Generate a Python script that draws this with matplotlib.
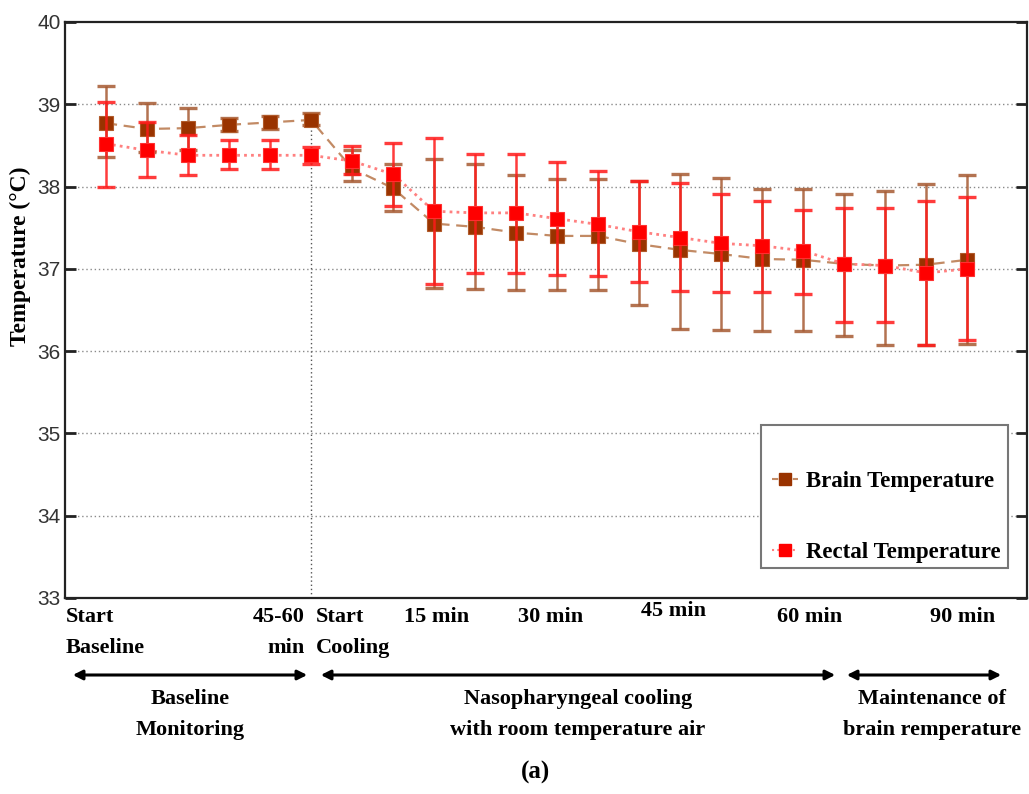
import matplotlib
matplotlib.use("Agg")
import matplotlib.pyplot as plt
from matplotlib.patches import Rectangle, FancyArrowPatch
from matplotlib.lines import Line2D
import numpy as np

# Measurement points: 6 baseline readings followed by 16 cooling readings
n_points = 22
x = np.arange(1, n_points + 1)

brain_mean = [38.77, 38.70, 38.71, 38.75, 38.78, 38.81,
              38.22, 37.98, 37.55, 37.51, 37.44, 37.40, 37.40, 37.30,
              37.23, 37.18, 37.12, 37.11, 37.06, 37.04, 37.05, 37.11]
brain_upper = [39.22, 39.01, 38.95, 38.83, 38.86, 38.89,
               38.45, 38.28, 38.33, 38.27, 38.14, 38.09, 38.09, 38.07,
               38.15, 38.10, 37.97, 37.97, 37.91, 37.95, 38.03, 38.14]
brain_lower = [38.36, 38.42, 38.45, 38.68, 38.70, 38.75,
               38.07, 37.70, 36.77, 36.76, 36.74, 36.74, 36.74, 36.56,
               36.27, 36.26, 36.25, 36.25, 36.18, 36.08, 36.08, 36.09]

rectal_mean = [38.52, 38.44, 38.38, 38.38, 38.38, 38.38,
               38.31, 38.15, 37.70, 37.68, 37.68, 37.61, 37.54, 37.45,
               37.38, 37.31, 37.28, 37.22, 37.06, 37.04, 36.95, 37.00]
rectal_upper = [39.03, 38.78, 38.63, 38.56, 38.56, 38.48,
                38.49, 38.53, 38.59, 38.40, 38.40, 38.30, 38.19, 38.07,
                38.04, 37.91, 37.83, 37.72, 37.74, 37.74, 37.82, 37.87]
rectal_lower = [37.99, 38.12, 38.14, 38.21, 38.21, 38.28,
                38.15, 37.76, 36.81, 36.95, 36.95, 36.93, 36.91, 36.84,
                36.73, 36.72, 36.72, 36.70, 36.35, 36.35, 36.08, 36.14]

tick_labels = ["Start\nBaseline", "45-60\nmin", "Start\nCooling", "15 min",
               "30 min", "45 min", "60 min", "90 min"]
tick_label_x = [0.02, 5.85, 6.12, 9.05, 11.85, 14.85, 18.15, 21.9]

phase_labels = ["Baseline\nMonitoring",
                "Nasopharyngeal cooling\nwith room temperature air",
                "Maintenance of\nbrain remperature"]

brain_err = [np.array(brain_mean) - np.array(brain_lower),
             np.array(brain_upper) - np.array(brain_mean)]
rectal_err = [np.array(rectal_mean) - np.array(rectal_lower),
              np.array(rectal_upper) - np.array(rectal_mean)]

serif = "Liberation Serif"
fig = plt.figure(figsize=(10.29, 7.94), dpi=100)
ax = fig.add_axes([0.0632, 0.2469, 0.9348, 0.7254])

ax.set_xlim(0, 23.46)
ax.set_ylim(33, 40)

# horizontal dotted grid
for yv in range(34, 40):
    ax.axhline(yv, color="#8a8a8a", lw=1.0, ls=(0, (1, 2)), zorder=0)

# end of baseline marker
ax.plot([6, 6], [33, brain_mean[5]], color="#555555", lw=1.0,
        ls=(0, (1, 2)), zorder=0.5)

# connecting lines
ax.plot(x, brain_mean, color="#c28a64", lw=1.6, ls=(0, (5, 3)), zorder=2)
ax.plot(x, rectal_mean, color="#ff8080", lw=2.0, ls=(0, (1, 1.5)), zorder=2)

ax.errorbar(x, brain_mean, yerr=brain_err, fmt="none", ecolor="#a65a32",
            elinewidth=1.8, capsize=6.5, capthick=2.4, alpha=0.85, zorder=3)
ax.plot(x, brain_mean, ls="none", marker="s", ms=10, color="#993300",
        mec="#b05a2a", mew=0.8, zorder=4)

ax.errorbar(x, rectal_mean, yerr=rectal_err, fmt="none", ecolor="#ff1a1a",
            elinewidth=1.8, capsize=6.5, capthick=2.4, alpha=0.85, zorder=5)
ax.plot(x, rectal_mean, ls="none", marker="s", ms=10, color="#ff0000",
        mec="#ff3030", mew=0.8, zorder=6)

# axes styling
ax.set_xticks([])
ax.set_yticks(range(33, 41))
ax.tick_params(axis="y", which="both", direction="in", length=8, width=2,
               right=True, labelsize=15, colors="#222222", pad=3)
for lbl in ax.get_yticklabels():
    lbl.set_fontfamily("Liberation Sans")
    lbl.set_color("#333333")
for side in ["left", "right", "top", "bottom"]:
    ax.spines[side].set_linewidth(1.6)
    ax.spines[side].set_color("#222222")

ax.set_ylabel("Temperature (\u00b0C)", fontsize=17, fontweight="bold",
              family=serif, labelpad=4)
ax.yaxis.set_label_coords(-0.035, 0.594)

# category labels beneath the axis
for lx, txt in zip(tick_label_x, tick_labels):
    if txt.startswith("45-60"):
        ha = "right"
    elif txt.startswith("Start"):
        ha = "left"
    else:
        ha = "center"
    dy = -0.006 if txt == "45 min" else -0.015
    ax.text(lx, dy, txt, transform=ax.get_xaxis_transform(), ha=ha, va="top",
            multialignment=ha if ha != "center" else "center",
            fontsize=16, fontweight="bold", family=serif, linespacing=1.75)

# phase arrows
arrow_y = 1 - 675 / 794
arrow_spans = [(70, 310), (318, 838), (844, 1004)]
label_shift = [0, 0, 8]
for (x0, x1), lab, sh in zip(arrow_spans, phase_labels, label_shift):
    fig.add_artist(FancyArrowPatch(
        (x0 / 1029, arrow_y), (x1 / 1029, arrow_y),
        transform=fig.transFigure, arrowstyle="<|-|>", mutation_scale=14,
        lw=2.2, color="black"))
    fig.text(((x0 + x1) / 2 + sh) / 1029, 1 - 689 / 794, lab, ha="center",
             va="top", fontsize=16, fontweight="bold", family=serif,
             linespacing=1.75)

fig.text(536 / 1029, 1 - 772 / 794, "(a)", ha="center", va="center",
         fontsize=18, fontweight="bold", family=serif)

# legend with its own frame
frame = Rectangle((761 / 1029, 1 - 568 / 794), (1008 - 761) / 1029,
                  (568 - 425) / 794, transform=fig.transFigure,
                  facecolor="white", edgecolor="#777777", lw=1.5, zorder=7)
fig.add_artist(frame)
h1 = Line2D([], [], color="#c28a64", ls=(0, (3, 2)), lw=1.5, marker="s",
            ms=9, mfc="#993300", mec="#993300")
h2 = Line2D([], [], color="#ff8080", ls=(0, (1, 1.5)), lw=1.5, marker="s",
            ms=9, mfc="#ff0000", mec="#ff0000")
leg = fig.legend([h1, h2], ["Brain Temperature", "Rectal Temperature"],
                 loc="center left",
                 bbox_to_anchor=(761 / 1029, 1 - 517 / 794),
                 frameon=False, handlelength=1.1, handletextpad=0.35,
                 labelspacing=2.15, borderpad=0,
                 prop={"family": serif, "weight": "bold", "size": 16.5})
leg.set_zorder(8)

fig.savefig("out.png", dpi=100)
